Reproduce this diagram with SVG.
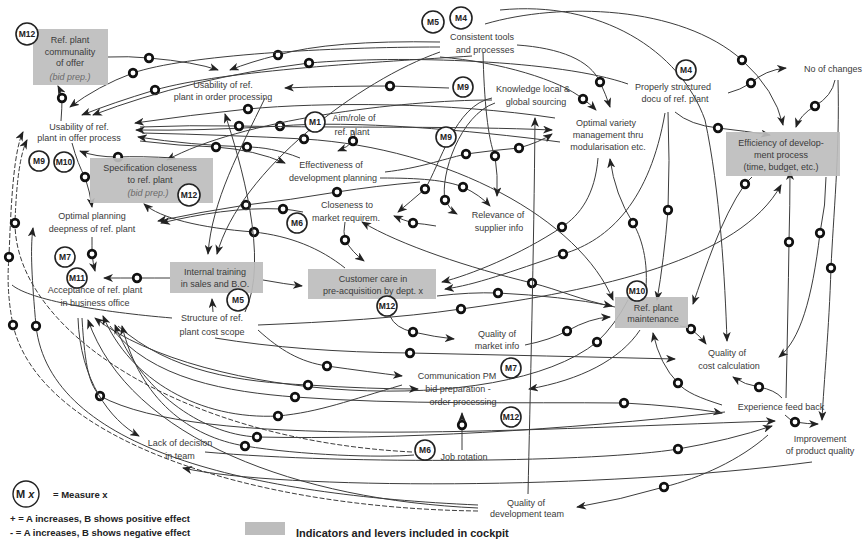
<svg xmlns="http://www.w3.org/2000/svg" width="868" height="545" viewBox="0 0 868 545">
<style>
  .c{fill:none;stroke:#3c3c3c;stroke-width:1;marker-end:url(#ah)}
  .cp{fill:none;stroke:#3c3c3c;stroke-width:1;marker-mid:url(#ring);marker-end:url(#ah)}
  .n{fill:none;stroke:#3c3c3c;stroke-width:1}
  .d{stroke-dasharray:5 2}
  .t{font-family:"Liberation Sans",Arial,sans-serif;font-size:9px;fill:#3a3a3a;text-anchor:middle}
  .i{font-style:italic;fill:#6a6a6a}
  .box{fill:#bdbdbd;fill-opacity:0.92}
  .m circle{fill:#fff;stroke:#222;stroke-width:1.6}
  .m text{font-family:"Liberation Sans",Arial,sans-serif;font-size:8.5px;font-weight:bold;fill:#222;text-anchor:middle}
  .lg{font-family:"Liberation Sans",Arial,sans-serif;font-weight:bold;fill:#222}
</style>
<defs>
  <marker id="ah" markerUnits="userSpaceOnUse" markerWidth="10" markerHeight="8" refX="9" refY="4" orient="auto" viewBox="0 0 10 8">
    <path d="M0,0 L10,4 L0,8 L2.8,4 z" fill="#222"/>
  </marker>
  <marker id="ring" markerUnits="userSpaceOnUse" markerWidth="13" markerHeight="13" refX="6.5" refY="6.5" viewBox="0 0 13 13">
    <circle cx="6.5" cy="6.5" r="3.8" fill="#fff" stroke="#111" stroke-width="2.7"/>
  </marker>
</defs>
<rect width="868" height="545" fill="#fff"/>

<!-- connectors -->
<g id="connectors">
  <path class="cp" d="M108,57 Q128,56 149,58 Q195,62 218,70"/>
  <path class="cp" d="M440,42 Q330,40 278,55 Q250,62 230,70"/>
  <path class="cp" d="M440,47 C330,47 185,55 133,73 Q98,86 70,107"/>
  <path class="cp" d="M472,56 C380,62 225,70 155,90 Q112,103 82,115"/>
  <path class="cp" d="M628,84 C560,60 400,55 309,63 Q190,78 93,115"/>
  <path class="cp" d="M61,121 Q62,108 62,98 Q61,92 58,86"/>
  <path class="cp" d="M449,88 Q420,87 390,86 Q330,86 285,88"/>
  <path class="cp" d="M555,118 C450,102 320,102 248,109 Q190,115 135,123"/>
  <path class="cp" d="M560,142 C470,130 350,120 280,126 Q200,131 136,130"/>
  <path class="cp" d="M140,127 Q190,125 239,126 C350,128 460,126 552,130"/>
  <path class="cp" d="M300,158 C280,150 262,147 247,147 Q190,145 138,137"/>
  <path class="cp" d="M140,141 Q180,146 216,147 Q255,150 285,163"/>
  <path class="cp" d="M142,133 Q230,135 304,139 C450,148 580,220 613,300"/>
  <path class="cp" d="M175,158 Q140,156 118,157 Q95,157 80,151"/>
  <path class="c" d="M492,100 C400,100 240,120 167,160"/>
  <path class="cp d" d="M478,511 C250,508 40,440 13,325 Q6,290 9,257 C11,200 14,150 23,132"/>
  <path class="cp d" d="M412,452 C180,440 15,330 15,223 Q17,160 27,140"/>
  <path class="cp" d="M478,505 C250,495 50,450 36,326 C32,280 30,250 33,228"/>
  <path class="cp" d="M72,143 Q78,165 85,177 Q90,192 92,207"/>
  <path class="cp" d="M485,24 C560,2 680,5 742,60 Q775,90 783,125"/>
  <path class="c" d="M500,10 C600,0 680,50 705,120 C720,190 725,280 727,341"/>
  <path class="cp" d="M517,45 C560,48 590,60 600,82 Q606,95 610,107"/>
  <path class="cp" d="M440,57 C500,62 560,80 583,99 Q590,104 596,110"/>
  <path class="cp" d="M728,93 Q740,90 751,83 Q765,70 786,68"/>
  <path class="cp" d="M835,80 Q832,96 815,106 Q800,115 796,127"/>
  <path class="cp" d="M675,112 Q690,125 718,128 Q745,131 770,135"/>
  <path class="cp" d="M838,80 C840,150 833,220 831,268 C829,330 824,380 822,420"/>
  <path class="cp" d="M826,177 Q826,205 820,233 C812,300 800,340 779,357"/>
  <path class="cp" d="M786,398 Q788,310 789,242 Q790,205 790,171"/>
  <path class="cp" d="M782,398 Q775,390 759,387 Q745,385 733,377"/>
  <path class="cp" d="M680,326 Q686,326 691,329 Q700,336 706,344"/>
  <path class="cp" d="M722,405 C700,398 685,392 678,383 Q660,365 653,333"/>
  <path class="cp" d="M785,415 Q790,420 795,422 Q808,424 818,424"/>
  <path class="cp" d="M668,112 Q670,160 668,210 Q664,260 657,300"/>
  <path class="cp" d="M598,158 C595,195 580,215 562,227 C520,255 470,275 442,282"/>
  <path class="cp" d="M665,113 C650,200 610,240 563,254 C510,272 475,285 445,289"/>
  <path class="cp" d="M645,297 C650,260 640,235 633,223 Q615,195 610,159"/>
  <path class="cp" d="M752,177 Q749,180 745,184 C720,220 705,270 693,304"/>
  <path class="cp" d="M615,307 C580,300 560,290 532,283 C470,268 400,245 362,222"/>
  <path class="cp" d="M437,296 Q470,292 498,293 Q560,296 612,306"/>
  <path class="cp" d="M525,345 Q550,340 567,331 Q590,318 610,317"/>
  <path class="cp" d="M628,300 Q615,325 597,342 C500,420 200,400 95,318"/>
  <path class="cp" d="M258,325 C330,322 400,318 461,309 C600,290 740,260 781,185"/>
  <path class="cp" d="M215,338 Q300,352 410,353 Q550,356 675,359"/>
  <path class="cp" d="M352,130 Q357,136 353,141 Q348,147 338,151"/>
  <path class="cp" d="M420,182 Q375,186 337,192 Q290,200 246,205 Q200,212 158,221"/>
  <path class="cp" d="M303,212 Q293,210 283,209 C240,207 200,214 161,223"/>
  <path class="cp" d="M345,268 C320,248 290,236 254,232 C200,228 160,218 144,204"/>
  <path class="cp" d="M345,222 Q343,232 345,240 Q352,252 364,261"/>
  <path class="cp" d="M492,98 C455,105 440,165 425,189 Q410,202 398,212"/>
  <path class="cp" d="M436,226 Q425,224 413,223 Q403,220 394,216"/>
  <path class="cp" d="M495,103 C460,115 440,175 445,200 Q450,210 457,214"/>
  <path class="cp" d="M380,178 C420,178 445,180 463,187 Q480,195 490,206"/>
  <path class="cp" d="M483,52 C484,100 488,140 495,156 Q498,175 497,196"/>
  <path class="cp" d="M385,172 C420,168 440,160 466,154 Q495,150 519,148 Q540,142 552,134"/>
  <path class="cp" d="M258,330 C280,350 300,362 327,366 Q370,372 402,376"/>
  <path class="cp" d="M118,326 C170,372 240,382 308,385 Q370,389 418,389"/>
  <path class="cp" d="M110,326 C150,380 230,392 295,397 C400,405 520,402 624,403 Q680,406 722,413"/>
  <path class="c" d="M640,330 C620,360 580,380 529,389"/>
  <path class="cp" d="M462,450 Q462,437 462,425 Q462,419 462,413"/>
  <path class="cp" d="M390,316 Q395,328 413,332 Q435,337 454,339"/>
  <path class="c" d="M263,280 Q285,284 302,286"/>
  <path class="cp" d="M170,278 Q155,278 137,278 Q120,278 104,278"/>
  <path class="cp" d="M92,237 Q92,246 92,254 Q93,263 95,271"/>
  <path class="c" d="M213,312 L212,299"/>
  <path class="c" d="M265,98 C240,150 212,200 208,254"/>
  <path class="c" d="M440,52 C360,80 240,170 217,254"/>
  <path class="c" d="M245,312 C270,260 240,160 225,114"/>
  <path class="c" d="M528,494 C530,400 534,250 535,118"/>
  <path class="cp" d="M82,318 C85,370 90,385 100,396 C200,450 500,430 775,421"/>
  <path class="cp" d="M725,412 C560,430 400,440 257,437 C200,434 140,390 115,325"/>
  <path class="cp" d="M414,455 C380,458 300,455 245,446 C190,437 140,400 122,326"/>
  <path class="cp" d="M402,385 C350,400 320,412 278,416 C200,420 130,380 103,316"/>
  <path class="c" d="M478,508 C300,500 130,440 88,320"/>
  <path class="c" d="M78,318 C80,380 110,420 139,436"/>
  <path class="c" d="M812,462 C600,490 280,490 183,468"/>
  <path class="cp" d="M205,452 C350,465 600,462 678,449 Q730,440 772,426"/>
  <path class="cp" d="M768,435 C740,460 700,478 664,487 Q620,500 577,507"/>
  <path class="n" d="M172,318 C100,312 30,300 12,285"/>
</g>

<!-- nodes -->
<g id="ref-plant-communality">
  <rect class="box" x="33" y="29" width="75" height="56"/>
  <text class="t" x="70" y="43">Ref. plant</text>
  <text class="t" x="70" y="55">communality</text>
  <text class="t" x="70" y="66">of offer</text>
  <text class="t i" x="70" y="80">(bid prep.)</text>
  <g class="m"><circle cx="27" cy="34" r="11"/><text x="27" y="37">M12</text></g>
</g>
<g id="usability-order">
  <text class="t" x="223" y="88">Usability of ref.</text>
  <text class="t" x="223" y="100">plant in order processing</text>
</g>
<g id="usability-offer">
  <text class="t" x="79" y="130">Usability of ref.</text>
  <text class="t" x="79" y="141">plant in offer process</text>
  <g class="m"><circle cx="39" cy="161" r="10"/><text x="39" y="164">M9</text></g>
  <g class="m"><circle cx="64" cy="162" r="10"/><text x="64" y="165">M10</text></g>
</g>
<g id="specification-closeness">
  <rect class="box" x="90" y="158" width="123" height="45"/>
  <text class="t" x="150" y="171">Specification closeness</text>
  <text class="t" x="150" y="183">to ref. plant</text>
  <text class="t i" x="148" y="196">(bid prep.)</text>
  <g class="m"><circle cx="189" cy="195" r="11"/><text x="189" y="198">M12</text></g>
</g>
<g id="optimal-planning">
  <text class="t" x="92" y="219">Optimal planning</text>
  <text class="t" x="92" y="232">deepness of ref. plant</text>
</g>
<g id="acceptance">
  <g class="m"><circle cx="65" cy="257" r="10"/><text x="65" y="260">M7</text></g>
  <g class="m"><circle cx="77" cy="278" r="10"/><text x="77" y="281">M11</text></g>
  <text class="t" x="95" y="293">Acceptance of ref. plant</text>
  <text class="t" x="95" y="306">in business office</text>
</g>
<g id="internal-training">
  <rect class="box" x="170" y="262" width="93" height="31"/>
  <text class="t" x="215" y="275">Internal training</text>
  <text class="t" x="215" y="287">in sales and B.O.</text>
  <g class="m"><circle cx="238" cy="300" r="11"/><text x="238" y="303">M5</text></g>
</g>
<g id="structure-cost-scope">
  <text class="t" x="212" y="321">Structure of ref.</text>
  <text class="t" x="212" y="335">plant cost scope</text>
</g>
<g id="lack-of-decision">
  <text class="t" x="180" y="446">Lack of decision</text>
  <text class="t" x="180" y="459">in team</text>
</g>
<g id="aim-role">
  <g class="m"><circle cx="315" cy="122" r="10"/><text x="315" y="125">M1</text></g>
  <text class="t" x="354" y="121">Aim/role of</text>
  <text class="t" x="352" y="135">ref. plant</text>
</g>
<g id="effectiveness-planning">
  <text class="t" x="331" y="168">Effectiveness of</text>
  <text class="t" x="333" y="181">development planning</text>
</g>
<g id="closeness-market">
  <g class="m"><circle cx="297" cy="223" r="10"/><text x="297" y="226">M6</text></g>
  <text class="t" x="347" y="208">Closeness to</text>
  <text class="t" x="346" y="221">market requirem.</text>
</g>
<g id="customer-care">
  <rect class="box" x="308" y="269" width="128" height="30"/>
  <text class="t" x="373" y="282">Customer care in</text>
  <text class="t" x="373" y="294">pre-acquisition by dept. x</text>
  <g class="m"><circle cx="387" cy="306" r="10"/><text x="387" y="309">M12</text></g>
</g>
<g id="market-info">
  <text class="t" x="497" y="337">Quality of</text>
  <text class="t" x="497" y="349">market info</text>
</g>
<g id="communication-pm">
  <text class="t" x="457" y="379">Communication PM</text>
  <text class="t" x="458" y="392">bid preparation -</text>
  <text class="t" x="463" y="405">order processing</text>
  <g class="m"><circle cx="511" cy="368" r="10"/><text x="511" y="371">M7</text></g>
  <g class="m"><circle cx="511" cy="417" r="10"/><text x="511" y="420">M12</text></g>
</g>
<g id="job-rotation">
  <g class="m"><circle cx="425" cy="450" r="10"/><text x="425" y="453">M6</text></g>
  <text class="t" x="464" y="460">Job rotation</text>
</g>
<g id="development-team">
  <text class="t" x="526" y="506">Quality of</text>
  <text class="t" x="527" y="517">development team</text>
</g>
<g id="consistent-tools">
  <g class="m"><circle cx="433" cy="22" r="11"/><text x="433" y="25">M5</text></g>
  <g class="m"><circle cx="461" cy="18" r="11"/><text x="461" y="21">M4</text></g>
  <text class="t" x="482" y="40">Consistent tools</text>
  <text class="t" x="485" y="53">and processes</text>
</g>
<g id="knowledge-sourcing">
  <g class="m"><circle cx="463" cy="87" r="10"/><text x="463" y="90">M9</text></g>
  <text class="t" x="533" y="92">Knowledge local &amp;</text>
  <text class="t" x="536" y="105">global sourcing</text>
  <g class="m"><circle cx="446" cy="137" r="10"/><text x="446" y="140">M9</text></g>
</g>
<g id="supplier-info">
  <text class="t" x="498" y="218">Relevance of</text>
  <text class="t" x="499" y="231">supplier info</text>
</g>
<g id="variety-management">
  <text class="t" x="606" y="126">Optimal variety</text>
  <text class="t" x="608" y="138">management thru</text>
  <text class="t" x="608" y="150">modularisation etc.</text>
</g>
<g id="docu-ref-plant">
  <g class="m"><circle cx="686" cy="70" r="10"/><text x="686" y="73">M4</text></g>
  <text class="t" x="673" y="90">Properly structured</text>
  <text class="t" x="675" y="102">docu of ref. plant</text>
</g>
<g id="no-of-changes">
  <text class="t" x="833" y="72">No of changes</text>
</g>
<g id="efficiency-development">
  <rect class="box" x="726" y="132" width="114" height="44"/>
  <text class="t" x="781" y="146">Efficiency of develop-</text>
  <text class="t" x="781" y="158">ment process</text>
  <text class="t" x="781" y="170">(time, budget, etc.)</text>
</g>
<g id="ref-plant-maintenance">
  <rect class="box" x="615" y="297" width="73" height="31"/>
  <text class="t" x="653" y="311">Ref. plant</text>
  <text class="t" x="653" y="322">maintenance</text>
  <g class="m"><circle cx="637" cy="291" r="10"/><text x="637" y="294">M10</text></g>
</g>
<g id="cost-calculation">
  <text class="t" x="727" y="356">Quality of</text>
  <text class="t" x="729" y="369">cost calculation</text>
</g>
<g id="experience-feedback">
  <text class="t" x="781" y="410">Experience feed back</text>
</g>
<g id="product-quality">
  <text class="t" x="820" y="442">Improvement</text>
  <text class="t" x="820" y="454">of product quality</text>
</g>

<!-- legend -->
<g id="legend">
  <circle cx="26" cy="494" r="13" fill="#fff" stroke="#222" stroke-width="1.4"/>
  <text class="lg" x="16" y="498" font-size="11">M <tspan font-style="italic">x</tspan></text>
  <text class="lg" x="53" y="498" font-size="9.5">= Measure x</text>
  <text class="lg" x="10" y="522" font-size="9.5">+ = A increases, B shows positive effect</text>
  <text class="lg" x="10" y="536" font-size="9.5">-  = A increases, B shows negative effect</text>
  <rect x="245" y="522" width="40" height="13" fill="#bdbdbd"/>
  <text class="lg" x="296" y="537" font-size="11">Indicators and levers included in cockpit</text>
</g>
</svg>
